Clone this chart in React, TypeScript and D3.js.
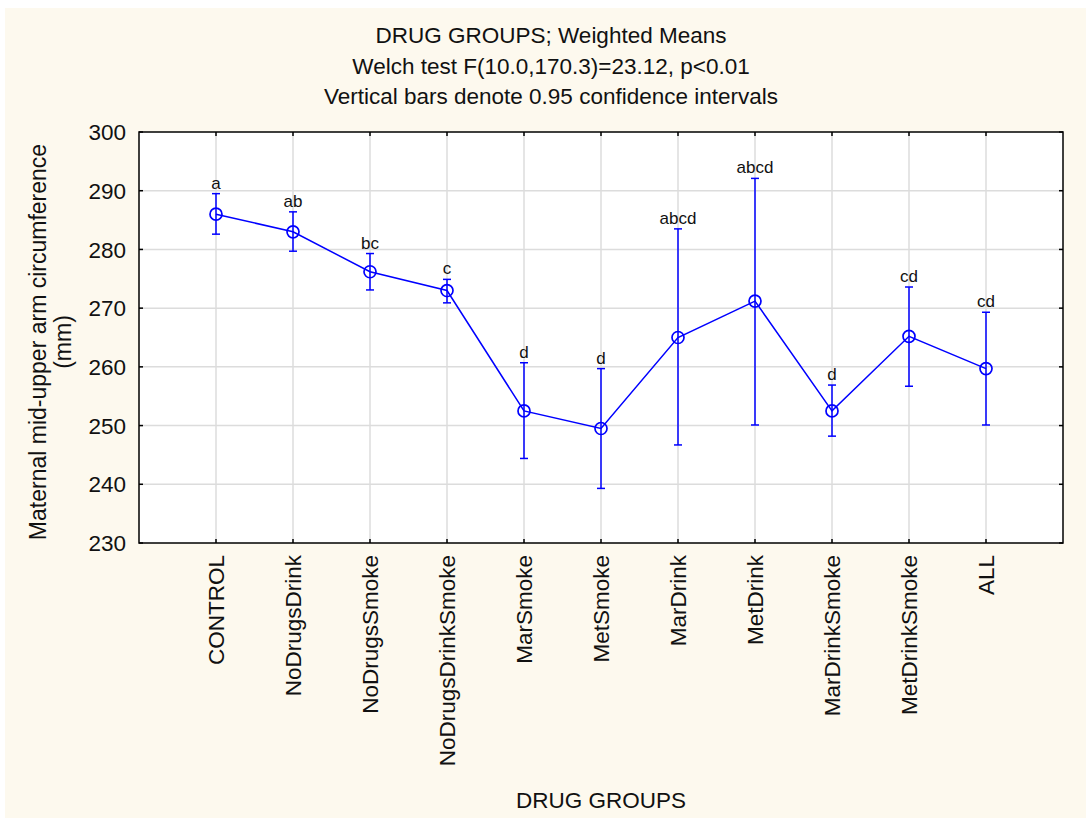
import React from "react";
import * as d3 from "d3";

const categories = ["CONTROL","NoDrugsDrink","NoDrugsSmoke","NoDrugsDrinkSmoke","MarSmoke","MetSmoke","MarDrink","MetDrink","MarDrinkSmoke","MetDrinkSmoke","ALL"];
const means = [286.0, 283.0, 276.2, 273.0, 252.5, 249.5, 265.0, 271.2, 252.5, 265.2, 259.7];
const upper = [289.5, 286.4, 279.3, 274.9, 260.7, 259.7, 283.5, 292.1, 256.9, 273.6, 269.3];
const lower = [282.6, 279.7, 273.1, 270.9, 244.4, 239.3, 246.7, 250.1, 248.2, 256.7, 250.1];
const letters = ["a","ab","bc","c","d","d","abcd","abcd","d","cd","cd"];
const yTicks = [230, 240, 250, 260, 270, 280, 290, 300];
const titleLines = ["DRUG GROUPS; Weighted Means", "Welch test F(10.0,170.3)=23.12, p<0.01", "Vertical bars denote 0.95 confidence intervals"];

export default function App() {
  const W = 1086, H = 821;
  const L = 139, R = 1063, T = 132, B = 543;
  const x = d3.scalePoint<string>().domain(categories).range([L, R]).padding(1);
  const y = d3.scaleLinear().domain([230, 300]).range([B, T]);
  const blue = "#0000ff";
  const font = "'Liberation Sans', Arial, sans-serif";
  const line = d3.line<number>().x((_, i) => x(categories[i])!).y(d => y(d));
  const tk = 4;
  return (
    <svg width={W} height={H} style={{ position: "absolute", left: 0, top: 0 }} fontFamily={font}>
      <rect x={0} y={0} width={W} height={H} fill="#fff" />
      <rect x={5} y={8} width={W - 5} height={810} fill="#fdf9ee" />
      {titleLines.map((t, i) => (
        <text key={i} x={551} y={43 + i * 30.5} textAnchor="middle" fontSize={22.5} fill="#111">{t}</text>
      ))}
      <rect x={L} y={T} width={R - L} height={B - T} fill="#fff" />
      {yTicks.slice(1, -1).map(v => (
        <line key={"gy" + v} x1={L} x2={R} y1={y(v)} y2={y(v)} stroke="#dcdcdc" strokeWidth={1.5} />
      ))}
      {categories.map(c => (
        <line key={"gx" + c} x1={x(c)} x2={x(c)} y1={T} y2={B} stroke="#dcdcdc" strokeWidth={1.5} />
      ))}
      {yTicks.map(v => (
        <g key={"t" + v}>
          <line x1={L} x2={L + tk} y1={y(v)} y2={y(v)} stroke="#000" strokeWidth={1.5} />
          <line x1={R} x2={R - tk} y1={y(v)} y2={y(v)} stroke="#000" strokeWidth={1.5} />
          <text x={126} y={y(v)} dy="0.36em" textAnchor="end" fontSize={22.5} fill="#111">{v}</text>
        </g>
      ))}
      {categories.map(c => (
        <g key={"tx" + c}>
          <line x1={x(c)} x2={x(c)} y1={T} y2={T + tk} stroke="#000" strokeWidth={1.5} />
          <line x1={x(c)} x2={x(c)} y1={B} y2={B - tk} stroke="#000" strokeWidth={1.5} />
          <text transform={`translate(${x(c)! + 8},${555}) rotate(-90)`} textAnchor="end" fontSize={22.5} fill="#111">{c}</text>
        </g>
      ))}
      <rect x={L} y={T} width={R - L} height={B - T} fill="none" stroke="#000" strokeWidth={1.5} />
      {categories.map((c, i) => {
        const cx = x(c)!;
        return (
          <g key={"e" + c} stroke={blue} strokeWidth={1.5}>
            <line x1={cx} x2={cx} y1={y(upper[i])} y2={y(lower[i])} />
            <line x1={cx - 4} x2={cx + 4} y1={y(upper[i])} y2={y(upper[i])} />
            <line x1={cx - 4} x2={cx + 4} y1={y(lower[i])} y2={y(lower[i])} />
          </g>
        );
      })}
      <path d={line(means)!} fill="none" stroke={blue} strokeWidth={1.5} />
      {categories.map((c, i) => (
        <circle key={"c" + c} cx={x(c)} cy={y(means[i])} r={6} fill="none" stroke={blue} strokeWidth={1.7} />
      ))}
      {categories.map((c, i) => (
        <text key={"l" + c} x={x(c)} y={y(upper[i]) - 5} textAnchor="middle" fontSize={17} fill="#111">{letters[i]}</text>
      ))}
      <text transform={`translate(46,342) rotate(-90)`} textAnchor="middle" fontSize={23} fill="#111">Maternal mid-upper arm circumference</text>
      <text transform={`translate(71,342) rotate(-90)`} textAnchor="middle" fontSize={23} fill="#111">(mm)</text>
      <text x={601} y={808} textAnchor="middle" fontSize={22.5} fill="#111">DRUG GROUPS</text>
    </svg>
  );
}
